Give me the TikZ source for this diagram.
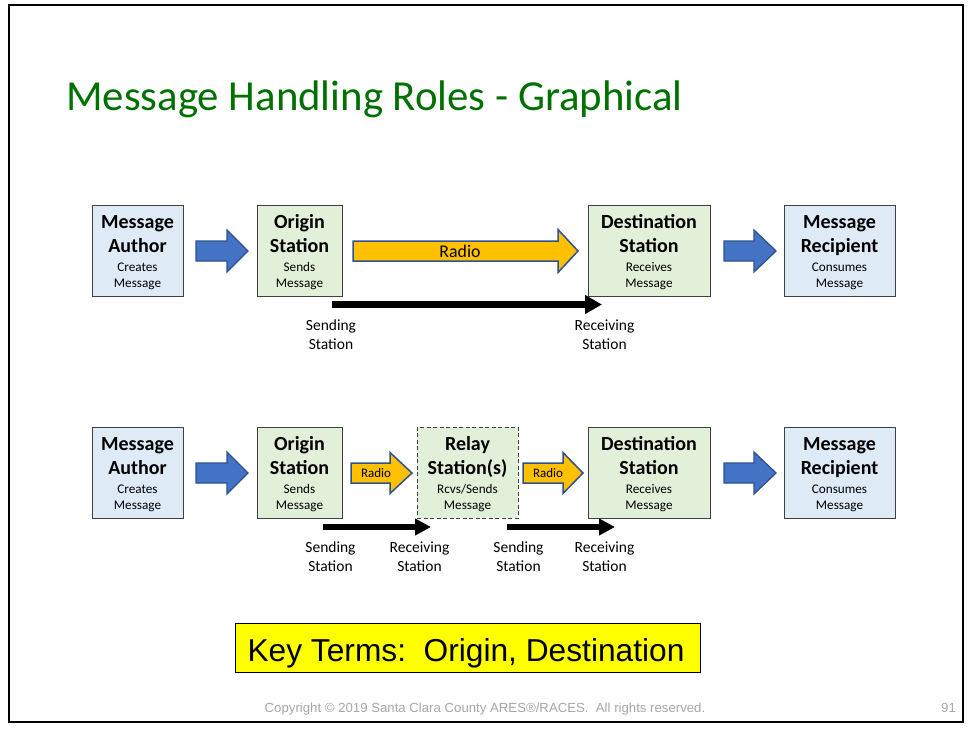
\documentclass[tikz,border=0pt]{standalone}
\usepackage{fontspec}
\setmainfont{Carlito}
\newfontfamily\arialfont{Liberation Sans}
\usetikzlibrary{arrows.meta}
\definecolor{titlegreen}{RGB}{0,112,0}
\definecolor{bluefill}{RGB}{222,235,247}
\definecolor{greenfill}{RGB}{226,240,217}
\definecolor{boxline}{RGB}{64,64,64}
\definecolor{arrowblue}{RGB}{68,114,196}
\definecolor{arrowedge}{RGB}{47,82,143}
\definecolor{radiofill}{RGB}{255,192,0}
\definecolor{keyyellow}{RGB}{255,255,0}
\definecolor{footgray}{RGB}{166,166,166}
\newcommand\rolebox[9]{%
  \node[#2, anchor=north, minimum width=#5] (#1) at (#3,#4) {};
  \node[bigtxt] (#1a) at ([yshift=-23pt]#1.north) {#6};
  \node[bigtxt] (#1b) at ([yshift=-47pt]#1.north) {#7};
  \node[smalltxt] (#1c) at ([yshift=-66pt]#1.north) {#8};
  \node[smalltxt] (#1d) at ([yshift=-82pt]#1.north) {#9};
}
\newcommand\blockarrow[7]{%
  \draw[#1] ({#2},{#4-#5}) -- ({#3-#7},{#4-#5}) -- ({#3-#7},{#4-#6}) -- ({#3},{#4})
    -- ({#3-#7},{#4+#6}) -- ({#3-#7},{#4+#5}) -- ({#2},{#4+#5}) -- cycle;
}
\newcommand\twoline[5]{%
  \node[lbltxt] (#1a) at (#2,#3) {#4};
  \node[lbltxt] (#1b) at (#2,{#3+19}) {#5};
}
\begin{document}
\begin{tikzpicture}[x=1pt,y=-1pt,
  rolebase/.style={draw=boxline, line width=0.9pt, minimum height=91pt, inner sep=0pt},
  bluebox/.style={rolebase, fill=bluefill},
  greenbox/.style={rolebase, fill=greenfill},
  relaybox/.style={rolebase, fill=greenfill, dashed, dash pattern=on 4pt off 2.5pt},
  bigtxt/.style={anchor=base, inner sep=0pt, font=\fontsize{20}{24}\selectfont\bfseries},
  smalltxt/.style={anchor=base, inner sep=0pt, font=\fontsize{13.2}{16}\selectfont},
  lbltxt/.style={anchor=base, inner sep=0pt, font=\fontsize{15.5}{19}\selectfont},
  bluearrow/.style={fill=arrowblue, draw=arrowedge, line width=1.3pt, line join=miter},
  radioarrow/.style={fill=radiofill, draw=arrowedge, line width=1.5pt, line join=miter},
  blackarrow/.style={draw=black, line width=7pt, -{Triangle[length=17pt,width=18pt]}},
  blackarrowsm/.style={draw=black, line width=6.5pt, -{Triangle[length=16pt,width=16pt]}},
]
\useasboundingbox (0,0) rectangle (969,729);
\fill[white] (0,0) rectangle (969,729);
\draw[line width=2.5pt] (9,5) rectangle (963,722);

\node[anchor=base west, inner sep=0pt, text=titlegreen, font=\fontsize{42.8}{48}\selectfont] (title) at (66,110) {Message Handling Roles - Graphical};

% ---- top row ----
\rolebox{ta}{bluebox}{137.5}{205}{91}{Message}{Author}{Creates}{Message}
\rolebox{to}{greenbox}{299.5}{205}{85}{Origin}{Station}{Sends}{Message}
\rolebox{td}{greenbox}{649}{205}{122}{Destination}{Station}{Receives}{Message}
\rolebox{tr}{bluebox}{839.5}{205}{111}{Message}{Recipient}{Consumes}{Message}

\blockarrow{bluearrow}{196}{248}{251}{10}{21}{21}
\blockarrow{radioarrow}{353}{578}{251}{10}{21.5}{20}
\blockarrow{bluearrow}{724}{776}{251}{10}{21}{22}
\node[anchor=base, inner sep=0pt, font=\fontsize{17.8}{20}\selectfont] (tradio) at (460,257) {Radio};

\coordinate (ts1) at (332,304.5);
\coordinate (ts2) at (602,304.5);
\draw[blackarrow] (ts1) -- (ts2);
\twoline{tsl}{331}{330}{Sending}{Station}
\twoline{trl}{604.5}{330}{Receiving}{Station}

% ---- bottom row ----
\rolebox{ba}{bluebox}{137.5}{427}{91}{Message}{Author}{Creates}{Message}
\rolebox{bo}{greenbox}{299.5}{427}{85}{Origin}{Station}{Sends}{Message}
\rolebox{bl}{relaybox}{467.5}{427}{101}{Relay}{Station(s)}{Rcvs/Sends}{Message}
\rolebox{bd}{greenbox}{649}{427}{122}{Destination}{Station}{Receives}{Message}
\rolebox{br}{bluebox}{839.5}{427}{111}{Message}{Recipient}{Consumes}{Message}

\blockarrow{bluearrow}{196}{248}{473}{10}{21}{21}
\blockarrow{radioarrow}{351}{412}{473}{10}{20.5}{22}
\blockarrow{radioarrow}{523}{583}{473}{10}{20.5}{20}
\blockarrow{bluearrow}{724}{776}{473}{10}{21}{22}
\node[anchor=base, inner sep=0pt, font=\fontsize{13}{16}\selectfont] (bradio1) at (376,477) {Radio};
\node[anchor=base, inner sep=0pt, font=\fontsize{13}{16}\selectfont] (bradio2) at (548,477) {Radio};

\coordinate (bs1) at (323,527);
\coordinate (bs2) at (431,527);
\coordinate (bs3) at (507,527);
\coordinate (bs4) at (615,527);
\draw[blackarrowsm] (bs1) -- (bs2);
\draw[blackarrowsm] (bs3) -- (bs4);
\twoline{bsl1}{330.5}{552}{Sending}{Station}
\twoline{brl1}{419.5}{552}{Receiving}{Station}
\twoline{bsl2}{518.5}{552}{Sending}{Station}
\twoline{brl2}{604.5}{552}{Receiving}{Station}

% ---- key terms ----
\node[draw=black, line width=1pt, fill=keyyellow, minimum width=465pt, minimum height=49pt, inner sep=0pt] (key) at (467.5,647.5) {};
\node[anchor=base, inner sep=0pt, font=\arialfont\fontsize{31.7}{36}\selectfont] (keytxt) at (466,661) {Key Terms:\ \ Origin, Destination};

% ---- footer ----
\node[anchor=base, inner sep=0pt, text=footgray, font=\arialfont\fontsize{13.2}{15}\selectfont] (copy) at (485,712) {Copyright \textcopyright{} 2019 Santa Clara County ARES\textregistered/RACES.\ \ All rights reserved.};
\node[anchor=base, inner sep=0pt, text=footgray, font=\arialfont\fontsize{13.2}{15}\selectfont] (pg) at (948.5,712) {91};
\end{tikzpicture}
\end{document}
